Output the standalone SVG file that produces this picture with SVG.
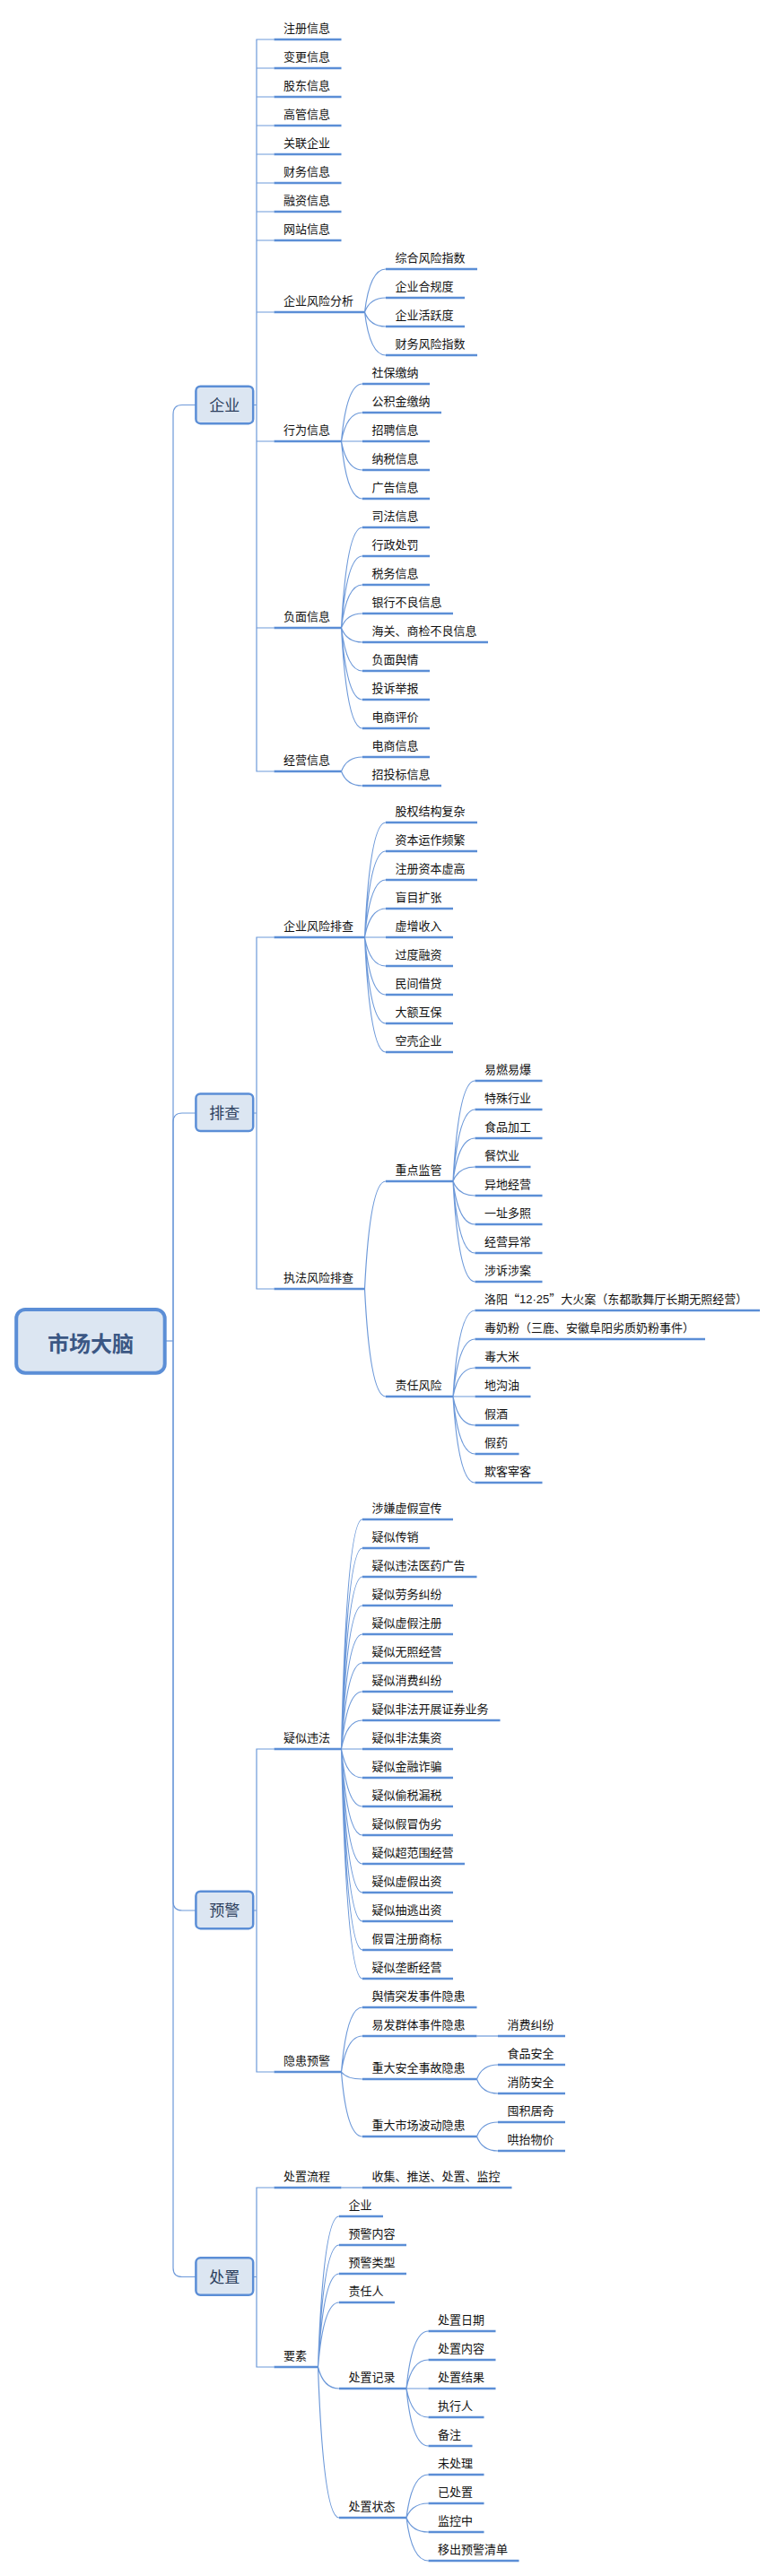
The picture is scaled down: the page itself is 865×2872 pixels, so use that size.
<svg xmlns="http://www.w3.org/2000/svg" width="865" height="2872" viewBox="0 0 865 2872">
<style>
.bg{fill:#ffffff}
.u{stroke:#5b8ed6;stroke-width:2.6}
.c{fill:none;stroke:#6d99d9;stroke-width:1.2}
.t{font-family:"Noto Sans CJK SC","Microsoft YaHei",sans-serif;font-size:13px;fill:#111111}
.lat{font-family:"Liberation Sans",Arial,sans-serif}
.l1box{fill:#dce6f2;stroke:#5b8ed6;stroke-width:2.5}
.l1{font-family:"Noto Sans CJK SC","Microsoft YaHei",sans-serif;font-size:17px;fill:#2d3f5e;text-anchor:middle}
.rootbox{fill:#dce6f2;stroke:#5b8ed6;stroke-width:4}
.root{font-family:"Noto Sans CJK SC","Microsoft YaHei",sans-serif;font-size:24px;font-weight:bold;fill:#3b5784;text-anchor:middle}
</style>
<rect class="bg" x="0" y="0" width="865" height="2872"/>

<g id="connectors">
<path class="c" d="M183.7 1495 H193"/>
<path class="c" d="M193 1495 V462 Q193 451.5 203 451.5 H218.4"/>
<path class="c" d="M193 1495 V1251 Q193 1241 203 1241 H218.4"/>
<path class="c" d="M193 1495 V2120 Q193 2130 203 2130 H218.4"/>
<path class="c" d="M193 1495 V2528.5 Q193 2538.5 203 2538.5 H218.4"/>

<path class="c" d="M282.2 451.5 H286 M305.5 44 H286 V860 H305.5 M286 76 H305.5 M286 108 H305.5 M286 140 H305.5 M286 172 H305.5 M286 204 H305.5 M286 236 H305.5 M286 268 H305.5 M286 348 H305.5 M286 492 H305.5 M286 700 H305.5"/>
<path class="c" d="M282.2 1241 H286 M305.5 1045 H286 V1437 H305.5"/>
<path class="c" d="M282.2 2130 H286 M305.5 1950 H286 V2310 H305.5"/>
<path class="c" d="M282.2 2538.5 H286 M305.5 2439 H286 V2639 H305.5"/>

<path class="c" d="M406.5 348 Q412.4 300 430 300 M406.5 348 Q412.4 332 430 332 M406.5 348 Q412.4 364 430 364 M406.5 348 Q412.4 396 430 396"/>
<path class="c" d="M380.5 492 Q386.4 428 404 428 M380.5 492 Q386.4 460 404 460 M380.5 492 L404 492 M380.5 492 Q386.4 524 404 524 M380.5 492 Q386.4 556 404 556"/>
<path class="c" d="M380.5 700 Q386.4 588 404 588 M380.5 700 Q386.4 620 404 620 M380.5 700 Q386.4 652 404 652 M380.5 700 Q386.4 684 404 684 M380.5 700 Q386.4 716 404 716 M380.5 700 Q386.4 748 404 748 M380.5 700 Q386.4 780 404 780 M380.5 700 Q386.4 812 404 812"/>
<path class="c" d="M380.5 860 Q386.4 844 404 844 M380.5 860 Q386.4 876 404 876"/>
<path class="c" d="M406.5 1045 Q412.4 917 430 917 M406.5 1045 Q412.4 949 430 949 M406.5 1045 Q412.4 981 430 981 M406.5 1045 Q412.4 1013 430 1013 M406.5 1045 L430 1045 M406.5 1045 Q412.4 1077 430 1077 M406.5 1045 Q412.4 1109 430 1109 M406.5 1045 Q412.4 1141 430 1141 M406.5 1045 Q412.4 1173 430 1173"/>
<path class="c" d="M406.5 1437 Q412.4 1317 430 1317 M406.5 1437 Q412.4 1557 430 1557"/>
<path class="c" d="M505 1317 Q511.1 1205 529.5 1205 M505 1317 Q511.1 1237 529.5 1237 M505 1317 Q511.1 1269 529.5 1269 M505 1317 Q511.1 1301 529.5 1301 M505 1317 Q511.1 1333 529.5 1333 M505 1317 Q511.1 1365 529.5 1365 M505 1317 Q511.1 1397 529.5 1397 M505 1317 Q511.1 1429 529.5 1429"/>
<path class="c" d="M505 1557 Q511.1 1461 529.5 1461 M505 1557 Q511.1 1493 529.5 1493 M505 1557 Q511.1 1525 529.5 1525 M505 1557 L529.5 1557 M505 1557 Q511.1 1589 529.5 1589 M505 1557 Q511.1 1621 529.5 1621 M505 1557 Q511.1 1653 529.5 1653"/>
<path class="c" d="M380.5 1950 Q386.4 1694 404 1694 M380.5 1950 Q386.4 1726 404 1726 M380.5 1950 Q386.4 1758 404 1758 M380.5 1950 Q386.4 1790 404 1790 M380.5 1950 Q386.4 1822 404 1822 M380.5 1950 Q386.4 1854 404 1854 M380.5 1950 Q386.4 1886 404 1886 M380.5 1950 Q386.4 1918 404 1918 M380.5 1950 L404 1950 M380.5 1950 Q386.4 1982 404 1982 M380.5 1950 Q386.4 2014 404 2014 M380.5 1950 Q386.4 2046 404 2046 M380.5 1950 Q386.4 2078 404 2078 M380.5 1950 Q386.4 2110 404 2110 M380.5 1950 Q386.4 2142 404 2142 M380.5 1950 Q386.4 2174 404 2174 M380.5 1950 Q386.4 2206 404 2206"/>
<path class="c" d="M380.5 2310 Q386.4 2238 404 2238 M380.5 2310 Q386.4 2270 404 2270 M380.5 2310 Q386.4 2318 404 2318 M380.5 2310 Q386.4 2382 404 2382"/>
<path class="c" d="M531.5 2270 L555 2270"/>
<path class="c" d="M531.5 2318 Q537.4 2302 555 2302 M531.5 2318 Q537.4 2334 555 2334"/>
<path class="c" d="M531.5 2382 Q537.4 2366 555 2366 M531.5 2382 Q537.4 2398 555 2398"/>
<path class="c" d="M380.5 2439 L404 2439"/>
<path class="c" d="M354.5 2639 Q360.4 2471 378 2471 M354.5 2639 Q360.4 2503 378 2503 M354.5 2639 Q360.4 2535 378 2535 M354.5 2639 Q360.4 2567 378 2567 M354.5 2639 Q360.4 2663 378 2663 M354.5 2639 Q360.4 2807 378 2807"/>
<path class="c" d="M453 2663 Q459.1 2599 477.5 2599 M453 2663 Q459.1 2631 477.5 2631 M453 2663 L477.5 2663 M453 2663 Q459.1 2695 477.5 2695 M453 2663 Q459.1 2727 477.5 2727"/>
<path class="c" d="M453 2807 Q459.1 2759 477.5 2759 M453 2807 Q459.1 2791 477.5 2791 M453 2807 Q459.1 2823 477.5 2823 M453 2807 Q459.1 2855 477.5 2855"/>
</g>

<g id="root"><rect class="rootbox" x="18.2" y="1460" width="165.5" height="70.7" rx="10"/><text class="root" x="101" y="1507">市场大脑</text></g>

<g id="n-qiye"><rect class="l1box" x="218.4" y="430.7" width="63.8" height="41.5" rx="5"/><text class="l1" x="250.3" y="458">企业</text></g>
<g id="n-paicha"><rect class="l1box" x="218.4" y="1219.5" width="63.8" height="41.5" rx="5"/><text class="l1" x="250.3" y="1247">排查</text></g>
<g id="n-yujing"><rect class="l1box" x="218.4" y="2108.7" width="63.8" height="41.5" rx="5"/><text class="l1" x="250.3" y="2136">预警</text></g>
<g id="n-chuzhi"><rect class="l1box" x="218.4" y="2517.3" width="63.8" height="41.5" rx="5"/><text class="l1" x="250.3" y="2545">处置</text></g>

<g id="n-zhuce"><line class="u" x1="305.5" y1="44" x2="380.5" y2="44"/><text class="t" x="316" y="35.5">注册信息</text></g>
<g id="n-biangeng"><line class="u" x1="305.5" y1="76" x2="380.5" y2="76"/><text class="t" x="316" y="67.5">变更信息</text></g>
<g id="n-gudong"><line class="u" x1="305.5" y1="108" x2="380.5" y2="108"/><text class="t" x="316" y="99.5">股东信息</text></g>
<g id="n-gaoguan"><line class="u" x1="305.5" y1="140" x2="380.5" y2="140"/><text class="t" x="316" y="131.5">高管信息</text></g>
<g id="n-guanlian"><line class="u" x1="305.5" y1="172" x2="380.5" y2="172"/><text class="t" x="316" y="163.5">关联企业</text></g>
<g id="n-caiwu"><line class="u" x1="305.5" y1="204" x2="380.5" y2="204"/><text class="t" x="316" y="195.5">财务信息</text></g>
<g id="n-rongzi"><line class="u" x1="305.5" y1="236" x2="380.5" y2="236"/><text class="t" x="316" y="227.5">融资信息</text></g>
<g id="n-wangzhan"><line class="u" x1="305.5" y1="268" x2="380.5" y2="268"/><text class="t" x="316" y="259.5">网站信息</text></g>
<g id="n-fxfx"><line class="u" x1="305.5" y1="348" x2="406.5" y2="348"/><text class="t" x="316" y="339.5">企业风险分析</text></g>
<g id="n-zhfx"><line class="u" x1="430" y1="300" x2="532" y2="300"/><text class="t" x="440.5" y="291.5">综合风险指数</text></g>
<g id="n-hgd"><line class="u" x1="430" y1="332" x2="518" y2="332"/><text class="t" x="440.5" y="323.5">企业合规度</text></g>
<g id="n-hyd"><line class="u" x1="430" y1="364" x2="518" y2="364"/><text class="t" x="440.5" y="355.5">企业活跃度</text></g>
<g id="n-cwfx"><line class="u" x1="430" y1="396" x2="532" y2="396"/><text class="t" x="440.5" y="387.5">财务风险指数</text></g>
<g id="n-xingwei"><line class="u" x1="305.5" y1="492" x2="380.5" y2="492"/><text class="t" x="316" y="483.5">行为信息</text></g>
<g id="n-shebao"><line class="u" x1="404" y1="428" x2="479" y2="428"/><text class="t" x="414.5" y="419.5">社保缴纳</text></g>
<g id="n-gongjijin"><line class="u" x1="404" y1="460" x2="492" y2="460"/><text class="t" x="414.5" y="451.5">公积金缴纳</text></g>
<g id="n-zhaopin"><line class="u" x1="404" y1="492" x2="479" y2="492"/><text class="t" x="414.5" y="483.5">招聘信息</text></g>
<g id="n-nashui"><line class="u" x1="404" y1="524" x2="479" y2="524"/><text class="t" x="414.5" y="515.5">纳税信息</text></g>
<g id="n-guanggao"><line class="u" x1="404" y1="556" x2="479" y2="556"/><text class="t" x="414.5" y="547.5">广告信息</text></g>
<g id="n-fumian"><line class="u" x1="305.5" y1="700" x2="380.5" y2="700"/><text class="t" x="316" y="691.5">负面信息</text></g>
<g id="n-sifa"><line class="u" x1="404" y1="588" x2="479" y2="588"/><text class="t" x="414.5" y="579.5">司法信息</text></g>
<g id="n-xingzheng"><line class="u" x1="404" y1="620" x2="479" y2="620"/><text class="t" x="414.5" y="611.5">行政处罚</text></g>
<g id="n-shuiwu"><line class="u" x1="404" y1="652" x2="479" y2="652"/><text class="t" x="414.5" y="643.5">税务信息</text></g>
<g id="n-yinhang"><line class="u" x1="404" y1="684" x2="505" y2="684"/><text class="t" x="414.5" y="675.5">银行不良信息</text></g>
<g id="n-haiguan"><line class="u" x1="404" y1="716" x2="544" y2="716"/><text class="t" x="414.5" y="707.5">海关、商检不良信息</text></g>
<g id="n-yuqing"><line class="u" x1="404" y1="748" x2="479" y2="748"/><text class="t" x="414.5" y="739.5">负面舆情</text></g>
<g id="n-tousu"><line class="u" x1="404" y1="780" x2="479" y2="780"/><text class="t" x="414.5" y="771.5">投诉举报</text></g>
<g id="n-dspj"><line class="u" x1="404" y1="812" x2="479" y2="812"/><text class="t" x="414.5" y="803.5">电商评价</text></g>
<g id="n-jingying"><line class="u" x1="305.5" y1="860" x2="380.5" y2="860"/><text class="t" x="316" y="851.5">经营信息</text></g>
<g id="n-dsxx"><line class="u" x1="404" y1="844" x2="479" y2="844"/><text class="t" x="414.5" y="835.5">电商信息</text></g>
<g id="n-ztb"><line class="u" x1="404" y1="876" x2="492" y2="876"/><text class="t" x="414.5" y="867.5">招投标信息</text></g>

<g id="n-qyfxpc"><line class="u" x1="305.5" y1="1045" x2="406.5" y2="1045"/><text class="t" x="316" y="1036.5">企业风险排查</text></g>
<g id="n-guquan"><line class="u" x1="430" y1="917" x2="532" y2="917"/><text class="t" x="440.5" y="908.5">股权结构复杂</text></g>
<g id="n-ziben"><line class="u" x1="430" y1="949" x2="532" y2="949"/><text class="t" x="440.5" y="940.5">资本运作频繁</text></g>
<g id="n-zczb"><line class="u" x1="430" y1="981" x2="532" y2="981"/><text class="t" x="440.5" y="972.5">注册资本虚高</text></g>
<g id="n-mangmu"><line class="u" x1="430" y1="1013" x2="505" y2="1013"/><text class="t" x="440.5" y="1004.5">盲目扩张</text></g>
<g id="n-xuzeng"><line class="u" x1="430" y1="1045" x2="505" y2="1045"/><text class="t" x="440.5" y="1036.5">虚增收入</text></g>
<g id="n-guodu"><line class="u" x1="430" y1="1077" x2="505" y2="1077"/><text class="t" x="440.5" y="1068.5">过度融资</text></g>
<g id="n-minjian"><line class="u" x1="430" y1="1109" x2="505" y2="1109"/><text class="t" x="440.5" y="1100.5">民间借贷</text></g>
<g id="n-dae"><line class="u" x1="430" y1="1141" x2="505" y2="1141"/><text class="t" x="440.5" y="1132.5">大额互保</text></g>
<g id="n-kongke"><line class="u" x1="430" y1="1173" x2="505" y2="1173"/><text class="t" x="440.5" y="1164.5">空壳企业</text></g>
<g id="n-zffxpc"><line class="u" x1="305.5" y1="1437" x2="406.5" y2="1437"/><text class="t" x="316" y="1428.5">执法风险排查</text></g>
<g id="n-zdjg"><line class="u" x1="430" y1="1317" x2="505" y2="1317"/><text class="t" x="440.5" y="1308.5">重点监管</text></g>
<g id="n-yiran"><line class="u" x1="529.5" y1="1205" x2="604.5" y2="1205"/><text class="t" x="540" y="1196.5">易燃易爆</text></g>
<g id="n-teshu"><line class="u" x1="529.5" y1="1237" x2="604.5" y2="1237"/><text class="t" x="540" y="1228.5">特殊行业</text></g>
<g id="n-shipin"><line class="u" x1="529.5" y1="1269" x2="604.5" y2="1269"/><text class="t" x="540" y="1260.5">食品加工</text></g>
<g id="n-canyin"><line class="u" x1="529.5" y1="1301" x2="591.5" y2="1301"/><text class="t" x="540" y="1292.5">餐饮业</text></g>
<g id="n-yidi"><line class="u" x1="529.5" y1="1333" x2="604.5" y2="1333"/><text class="t" x="540" y="1324.5">异地经营</text></g>
<g id="n-yizhi"><line class="u" x1="529.5" y1="1365" x2="604.5" y2="1365"/><text class="t" x="540" y="1356.5">一址多照</text></g>
<g id="n-jyyc"><line class="u" x1="529.5" y1="1397" x2="604.5" y2="1397"/><text class="t" x="540" y="1388.5">经营异常</text></g>
<g id="n-shesu"><line class="u" x1="529.5" y1="1429" x2="604.5" y2="1429"/><text class="t" x="540" y="1420.5">涉诉涉案</text></g>
<g id="n-zrfx"><line class="u" x1="430" y1="1557" x2="505" y2="1557"/><text class="t" x="440.5" y="1548.5">责任风险</text></g>
<g id="n-luoyang"><line class="u" x1="529.5" y1="1461" x2="847" y2="1461"/><text class="t" x="540" y="1452.5">洛阳“<tspan class="lat">12·25</tspan>”大火案（东都歌舞厅长期无照经营）</text></g>
<g id="n-dunaifen"><line class="u" x1="529.5" y1="1493" x2="786" y2="1493"/><text class="t" x="540" y="1484.5">毒奶粉（三鹿、安徽阜阳劣质奶粉事件）</text></g>
<g id="n-dudami"><line class="u" x1="529.5" y1="1525" x2="591.5" y2="1525"/><text class="t" x="540" y="1516.5">毒大米</text></g>
<g id="n-digouyou"><line class="u" x1="529.5" y1="1557" x2="591.5" y2="1557"/><text class="t" x="540" y="1548.5">地沟油</text></g>
<g id="n-jiajiu"><line class="u" x1="529.5" y1="1589" x2="578.5" y2="1589"/><text class="t" x="540" y="1580.5">假酒</text></g>
<g id="n-jiayao"><line class="u" x1="529.5" y1="1621" x2="578.5" y2="1621"/><text class="t" x="540" y="1612.5">假药</text></g>
<g id="n-qike"><line class="u" x1="529.5" y1="1653" x2="604.5" y2="1653"/><text class="t" x="540" y="1644.5">欺客宰客</text></g>

<g id="n-ysweifa"><line class="u" x1="305.5" y1="1950" x2="380.5" y2="1950"/><text class="t" x="316" y="1941.5">疑似违法</text></g>
<g id="n-w1"><line class="u" x1="404" y1="1694" x2="505" y2="1694"/><text class="t" x="414.5" y="1685.5">涉嫌虚假宣传</text></g>
<g id="n-w2"><line class="u" x1="404" y1="1726" x2="479" y2="1726"/><text class="t" x="414.5" y="1717.5">疑似传销</text></g>
<g id="n-w3"><line class="u" x1="404" y1="1758" x2="531.5" y2="1758"/><text class="t" x="414.5" y="1749.5">疑似违法医药广告</text></g>
<g id="n-w4"><line class="u" x1="404" y1="1790" x2="505" y2="1790"/><text class="t" x="414.5" y="1781.5">疑似劳务纠纷</text></g>
<g id="n-w5"><line class="u" x1="404" y1="1822" x2="505" y2="1822"/><text class="t" x="414.5" y="1813.5">疑似虚假注册</text></g>
<g id="n-w6"><line class="u" x1="404" y1="1854" x2="505" y2="1854"/><text class="t" x="414.5" y="1845.5">疑似无照经营</text></g>
<g id="n-w7"><line class="u" x1="404" y1="1886" x2="505" y2="1886"/><text class="t" x="414.5" y="1877.5">疑似消费纠纷</text></g>
<g id="n-w8"><line class="u" x1="404" y1="1918" x2="557.5" y2="1918"/><text class="t" x="414.5" y="1909.5">疑似非法开展证券业务</text></g>
<g id="n-w9"><line class="u" x1="404" y1="1950" x2="505" y2="1950"/><text class="t" x="414.5" y="1941.5">疑似非法集资</text></g>
<g id="n-w10"><line class="u" x1="404" y1="1982" x2="505" y2="1982"/><text class="t" x="414.5" y="1973.5">疑似金融诈骗</text></g>
<g id="n-w11"><line class="u" x1="404" y1="2014" x2="505" y2="2014"/><text class="t" x="414.5" y="2005.5">疑似偷税漏税</text></g>
<g id="n-w12"><line class="u" x1="404" y1="2046" x2="505" y2="2046"/><text class="t" x="414.5" y="2037.5">疑似假冒伪劣</text></g>
<g id="n-w13"><line class="u" x1="404" y1="2078" x2="518" y2="2078"/><text class="t" x="414.5" y="2069.5">疑似超范围经营</text></g>
<g id="n-w14"><line class="u" x1="404" y1="2110" x2="505" y2="2110"/><text class="t" x="414.5" y="2101.5">疑似虚假出资</text></g>
<g id="n-w15"><line class="u" x1="404" y1="2142" x2="505" y2="2142"/><text class="t" x="414.5" y="2133.5">疑似抽逃出资</text></g>
<g id="n-w16"><line class="u" x1="404" y1="2174" x2="505" y2="2174"/><text class="t" x="414.5" y="2165.5">假冒注册商标</text></g>
<g id="n-w17"><line class="u" x1="404" y1="2206" x2="505" y2="2206"/><text class="t" x="414.5" y="2197.5">疑似垄断经营</text></g>
<g id="n-yinhuan"><line class="u" x1="305.5" y1="2310" x2="380.5" y2="2310"/><text class="t" x="316" y="2301.5">隐患预警</text></g>
<g id="n-h1"><line class="u" x1="404" y1="2238" x2="531.5" y2="2238"/><text class="t" x="414.5" y="2229.5">舆情突发事件隐患</text></g>
<g id="n-h2"><line class="u" x1="404" y1="2270" x2="531.5" y2="2270"/><text class="t" x="414.5" y="2261.5">易发群体事件隐患</text></g>
<g id="n-h2a"><line class="u" x1="555" y1="2270" x2="630" y2="2270"/><text class="t" x="565.5" y="2261.5">消费纠纷</text></g>
<g id="n-h3"><line class="u" x1="404" y1="2318" x2="531.5" y2="2318"/><text class="t" x="414.5" y="2309.5">重大安全事故隐患</text></g>
<g id="n-h3a"><line class="u" x1="555" y1="2302" x2="630" y2="2302"/><text class="t" x="565.5" y="2293.5">食品安全</text></g>
<g id="n-h3b"><line class="u" x1="555" y1="2334" x2="630" y2="2334"/><text class="t" x="565.5" y="2325.5">消防安全</text></g>
<g id="n-h4"><line class="u" x1="404" y1="2382" x2="531.5" y2="2382"/><text class="t" x="414.5" y="2373.5">重大市场波动隐患</text></g>
<g id="n-h4a"><line class="u" x1="555" y1="2366" x2="630" y2="2366"/><text class="t" x="565.5" y="2357.5">囤积居奇</text></g>
<g id="n-h4b"><line class="u" x1="555" y1="2398" x2="630" y2="2398"/><text class="t" x="565.5" y="2389.5">哄抬物价</text></g>

<g id="n-czlc"><line class="u" x1="305.5" y1="2439" x2="380.5" y2="2439"/><text class="t" x="316" y="2430.5">处置流程</text></g>
<g id="n-czlc-a"><line class="u" x1="404" y1="2439" x2="570.5" y2="2439"/><text class="t" x="414.5" y="2430.5">收集、推送、处置、监控</text></g>
<g id="n-yaosu"><line class="u" x1="305.5" y1="2639" x2="354.5" y2="2639"/><text class="t" x="316" y="2630.5">要素</text></g>
<g id="n-ys1"><line class="u" x1="378" y1="2471" x2="427" y2="2471"/><text class="t" x="388.5" y="2462.5">企业</text></g>
<g id="n-ys2"><line class="u" x1="378" y1="2503" x2="453" y2="2503"/><text class="t" x="388.5" y="2494.5">预警内容</text></g>
<g id="n-ys3"><line class="u" x1="378" y1="2535" x2="453" y2="2535"/><text class="t" x="388.5" y="2526.5">预警类型</text></g>
<g id="n-ys4"><line class="u" x1="378" y1="2567" x2="440" y2="2567"/><text class="t" x="388.5" y="2558.5">责任人</text></g>
<g id="n-ys5"><line class="u" x1="378" y1="2663" x2="453" y2="2663"/><text class="t" x="388.5" y="2654.5">处置记录</text></g>
<g id="n-jl1"><line class="u" x1="477.5" y1="2599" x2="552.5" y2="2599"/><text class="t" x="488" y="2590.5">处置日期</text></g>
<g id="n-jl2"><line class="u" x1="477.5" y1="2631" x2="552.5" y2="2631"/><text class="t" x="488" y="2622.5">处置内容</text></g>
<g id="n-jl3"><line class="u" x1="477.5" y1="2663" x2="552.5" y2="2663"/><text class="t" x="488" y="2654.5">处置结果</text></g>
<g id="n-jl4"><line class="u" x1="477.5" y1="2695" x2="539.5" y2="2695"/><text class="t" x="488" y="2686.5">执行人</text></g>
<g id="n-jl5"><line class="u" x1="477.5" y1="2727" x2="526.5" y2="2727"/><text class="t" x="488" y="2718.5">备注</text></g>
<g id="n-ys6"><line class="u" x1="378" y1="2807" x2="453" y2="2807"/><text class="t" x="388.5" y="2798.5">处置状态</text></g>
<g id="n-zt1"><line class="u" x1="477.5" y1="2759" x2="539.5" y2="2759"/><text class="t" x="488" y="2750.5">未处理</text></g>
<g id="n-zt2"><line class="u" x1="477.5" y1="2791" x2="539.5" y2="2791"/><text class="t" x="488" y="2782.5">已处置</text></g>
<g id="n-zt3"><line class="u" x1="477.5" y1="2823" x2="539.5" y2="2823"/><text class="t" x="488" y="2814.5">监控中</text></g>
<g id="n-zt4"><line class="u" x1="477.5" y1="2855" x2="578.5" y2="2855"/><text class="t" x="488" y="2846.5">移出预警清单</text></g>
</svg>
